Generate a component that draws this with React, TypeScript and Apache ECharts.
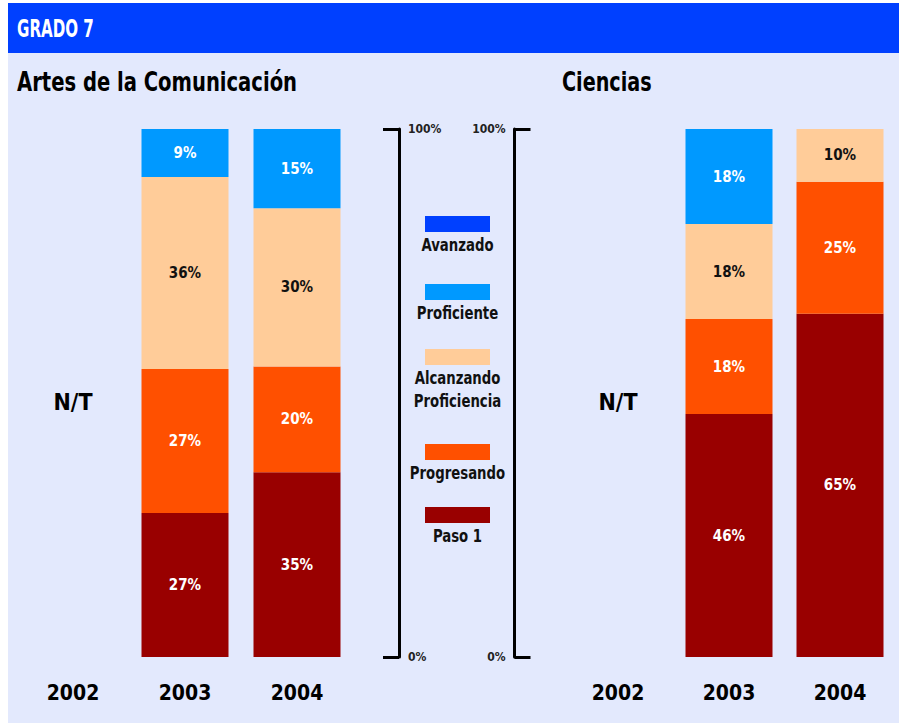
import React, { useEffect, useRef } from "react";
import * as echarts from "echarts";

// ---------- DATA ----------
const years = ["2002", "2003", "2004"];
const levelNames = ["Avanzado", "Proficiente", "Alcanzando Proficiencia", "Progresando", "Paso 1"];
const legendLabels = ["Avanzado", "Proficiente", "Alcanzando\nProficiencia", "Progresando", "Paso 1"];
const levelColors = ["#0040FF", "#0099FF", "#FFCC99", "#FF5000", "#990000"];
const labelColors = ["#FFFFFF", "#FFFFFF", "#111111", "#FFFFFF", "#FFFFFF"];

// values per year (2002, 2003, 2004); null = N/T
const artesAvanzado = [null, 0, 0];
const artesProficiente = [null, 9, 15];
const artesAlcanzando = [null, 36, 30];
const artesProgresando = [null, 27, 20];
const artesPaso1 = [null, 27, 35];

const cienciasAvanzado = [null, 0, 0];
const cienciasProficiente = [null, 18, 0];
const cienciasAlcanzando = [null, 18, 10];
const cienciasProgresando = [null, 18, 25];
const cienciasPaso1 = [null, 46, 65];

const noData = ["N/T", null, null];
const axisRange = [0, 100];

const FONT = "'Liberation Sans Narrow', 'DejaVu Sans Condensed', 'Noto Sans', sans-serif";

type Vals = (number | null)[];

function buildSeries(subject: Vals[], gridIdx: number) {
  // subject: [Avanzado, Proficiente, Alcanzando, Progresando, Paso1]
  const totals = years.map((_, i) =>
    subject.reduce((s, arr) => s + (arr[i] ?? 0), 0)
  );
  const order = [4, 3, 2, 1, 0]; // bottom to top
  const series: any[] = order.map((lv) => ({
    name: levelNames[lv],
    type: "bar",
    stack: "s" + gridIdx,
    xAxisIndex: gridIdx,
    yAxisIndex: gridIdx,
    barWidth: 87,
    itemStyle: { color: levelColors[lv] },
    label: {
      show: true,
      position: "inside",
      color: labelColors[lv],
      fontFamily: FONT,
      fontWeight: "bold",
      fontSize: 15,
      formatter: (p: any) => {
        const raw = subject[lv][p.dataIndex];
        return raw ? raw + "%" : "";
      },
    },
    data: subject[lv].map((v, i) =>
      v === null || totals[i] === 0 ? null : (v / totals[i]) * 100
    ),
  }));
  series.push({
    type: "scatter",
    xAxisIndex: gridIdx,
    yAxisIndex: gridIdx,
    symbolSize: 0,
    silent: true,
    itemStyle: { opacity: 1 },
    label: {
      show: true,
      position: "inside",
      offset: [0, 9],
      color: "#000",
      opacity: 1,
      fontFamily: FONT,
      fontWeight: "bold",
      fontSize: 23,
      formatter: (p: any) => noData[p.dataIndex] ?? "",
    },
    data: noData.map((t, i) => (t ? [years[i], 50] : null)).filter(Boolean),
  });
  return series;
}

export default function App() {
  const ref = useRef<HTMLDivElement>(null);
  useEffect(() => {
    if (!ref.current) return;
    const chart = echarts.init(ref.current, null, { renderer: "svg" });

    const xAxisCommon = {
      type: "category",
      data: years,
      axisLine: { show: false },
      axisTick: { show: false },
      axisLabel: {
        color: "#000",
        fontFamily: FONT,
        fontWeight: "bold",
        fontSize: 21,
        margin: 25,
      },
    };
    const yAxisCommon = {
      type: "value",
      min: axisRange[0],
      max: axisRange[1],
      interval: 100,
      splitLine: { show: false },
      axisLine: { show: true, lineStyle: { color: "#000", width: 3 } },
      axisTick: { show: true, inside: true, length: 16, lineStyle: { color: "#000", width: 3 } },
      axisLabel: {
        color: "#222",
        fontFamily: FONT,
        fontWeight: "bold",
        fontSize: 12,
        formatter: "{value}%",
      },
    };

    const legendY = [216, 284, 349, 444, 507];
    const legendGraphics: any[] = [];
    levelNames.forEach((_, i) => {
      legendGraphics.push({
        type: "rect",
        z: 10,
        shape: { x: 425, y: legendY[i], width: 65, height: 16 },
        style: { fill: levelColors[i] },
      });
      legendGraphics.push({
        type: "text",
        z: 10,
        x: 457.5,
        y: legendY[i] + 17,
        scaleX: 0.82,
        style: {
          text: legendLabels[i],
          fill: "#111",
          fontFamily: FONT,
          fontWeight: "bold",
          fontSize: 18,
          lineHeight: 23,
          align: "center",
          verticalAlign: "top",
        },
      });
    });

    const option: any = {
      animation: false,
      backgroundColor: "#FFFFFF",
      graphic: [
        { type: "rect", z: -10, shape: { x: 8, y: 53, width: 891, height: 670 }, style: { fill: "#E3E9FD" } },
        { type: "rect", z: -10, shape: { x: 8, y: 3, width: 891, height: 50 }, style: { fill: "#0040FF" } },
        {
          type: "text", z: 10, x: 17, y: 29, scaleX: 0.7,
          style: { text: "GRADO 7", fill: "#FFFFFF", fontFamily: FONT, fontWeight: "bold", fontSize: 24, align: "left", verticalAlign: "middle" },
        },
        {
          type: "text", z: 10, x: 17, y: 82, scaleX: 0.806,
          style: { text: "Artes de la Comunicación", fill: "#000", fontFamily: FONT, fontWeight: "bold", fontSize: 27, align: "left", verticalAlign: "middle" },
        },
        {
          type: "text", z: 10, x: 562, y: 82, scaleX: 0.79,
          style: { text: "Ciencias", fill: "#000", fontFamily: FONT, fontWeight: "bold", fontSize: 27, align: "left", verticalAlign: "middle" },
        },
        ...legendGraphics,
      ],
      grid: [
        { left: 17, width: 336, top: 129, height: 528 },
        { left: 562.5, width: 333, top: 129, height: 528 },
      ],
      xAxis: [
        { ...xAxisCommon, gridIndex: 0 },
        { ...xAxisCommon, gridIndex: 1 },
      ],
      yAxis: [
        { ...yAxisCommon, gridIndex: 0, position: "right", offset: 46, axisLabel: { ...yAxisCommon.axisLabel, margin: 9 } },
        { ...yAxisCommon, gridIndex: 1, position: "left", offset: 48, axisLabel: { ...yAxisCommon.axisLabel, margin: 9 } },
      ],
      series: [
        ...buildSeries([artesAvanzado, artesProficiente, artesAlcanzando, artesProgresando, artesPaso1], 0),
        ...buildSeries([cienciasAvanzado, cienciasProficiente, cienciasAlcanzando, cienciasProgresando, cienciasPaso1], 1),
      ],
    };
    chart.setOption(option);
    return () => chart.dispose();
  }, []);
  return (
    <div
      ref={ref}
      style={{ position: "fixed", left: 0, top: 0, width: 899, height: 723 }}
    />
  );
}
